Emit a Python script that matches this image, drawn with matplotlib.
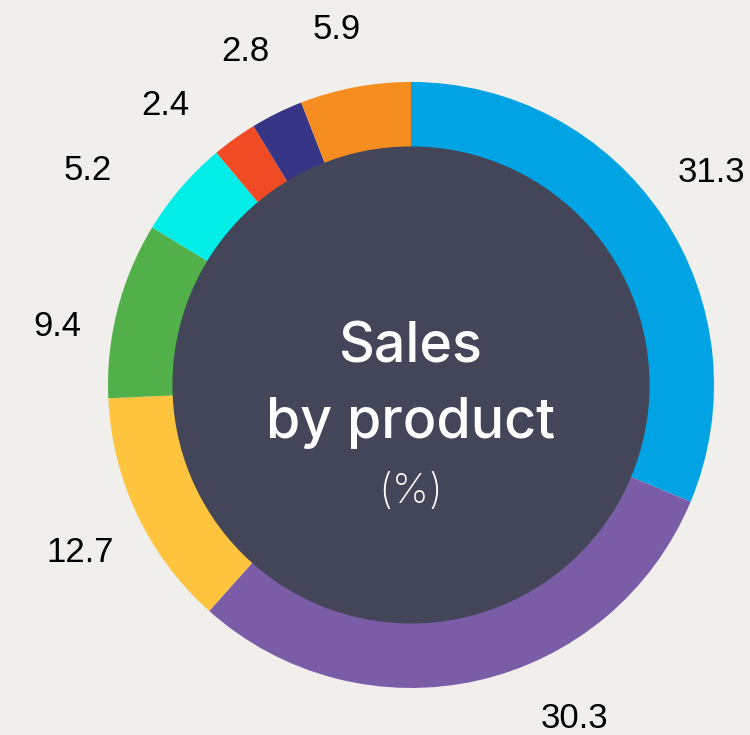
import numpy as np
import matplotlib.pyplot as plt
from matplotlib.patches import Circle

BG = "#f0efeb"
CENTER = "#434558"

# product shares (%), clockwise from 12 o'clock
shares = [31.3, 30.3, 12.7, 9.4, 5.2, 2.4, 2.8, 5.9]
labels = ["31.3", "30.3", "12.7", "9.4", "5.2", "2.4", "2.8", "5.9"]
colors = ["#00a3e3", "#7b5ca7", "#ffc43d", "#52b04a", "#00ede8",
          "#f04b24", "#373585", "#f68d21"]

# label placement: nudge (deg, clockwise) and radius, so small slices don't crowd
LABEL_SHIFT = [-1.7, -13.3, -1.5, -5.1, -7.1, -5.6, -0.1, -1.2]
LABEL_RAD = [1.214, 1.224, 1.225, 1.184, 1.28, 1.228, 1.227, 1.197]

RING = 0.215

fig = plt.figure(figsize=(7.5, 7.35), dpi=100, facecolor=BG)
ax = fig.add_axes([0.144, 0.064, 0.808, 0.8245])
ax.set_facecolor(BG)

wedges, _ = ax.pie(shares, colors=colors, startangle=90, counterclock=False,
                   wedgeprops=dict(width=RING, linewidth=0))

# labels outside the ring at each slice's mid angle
for w, lab, d, r in zip(wedges, labels, LABEL_SHIFT, LABEL_RAD):
    mid = np.deg2rad((w.theta1 + w.theta2) / 2 - d)
    ax.text(r * np.cos(mid), r * np.sin(mid), lab, ha="center", va="center",
            fontsize=25, family="Liberation Sans", color="#000000")

ax.add_patch(Circle((0, 0), 1 - RING, color=CENTER, zorder=3))

ax.text(0, 0.125, "Sales", ha="center", va="center", color="white",
        fontsize=40, family="Inter", fontweight="medium", zorder=4)
ax.text(0, -0.125, "by product", ha="center", va="center", color="white",
        fontsize=40, family="Inter", fontweight="medium", zorder=4)
ax.text(0, -0.353, "(%)", ha="center", va="center", color="white",
        fontsize=30, family="Inter", fontweight="light", zorder=4)

ax.set_xlim(-1, 1)
ax.set_ylim(-1, 1)
ax.set_aspect("equal")
ax.axis("off")

fig.savefig("out.png", dpi=100, facecolor=BG)
